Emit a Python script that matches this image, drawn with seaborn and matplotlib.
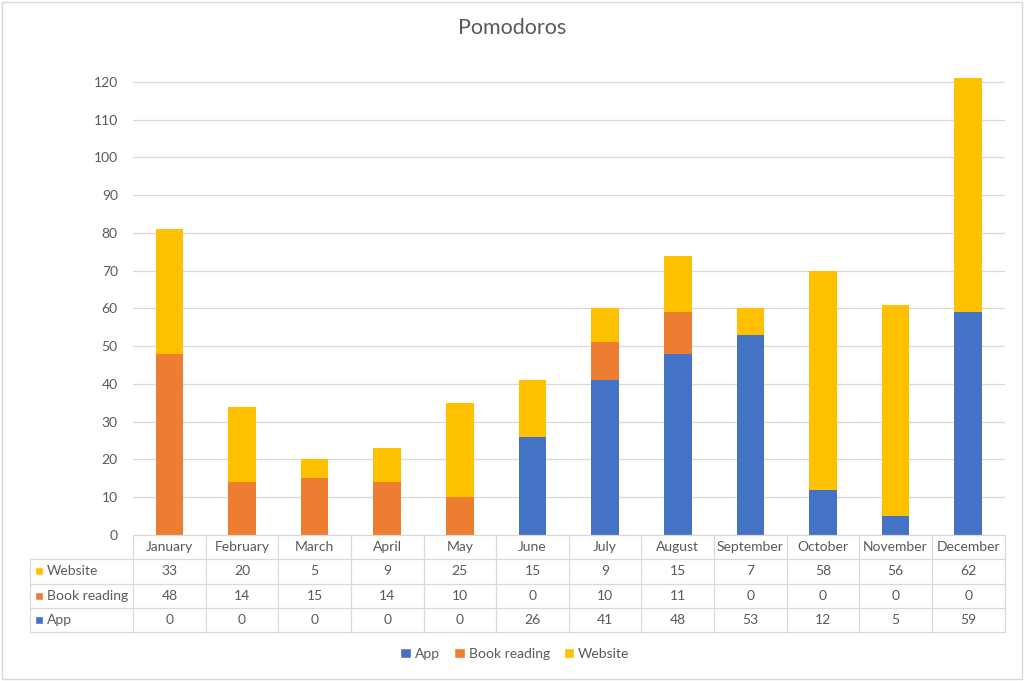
import numpy as np
import pandas as pd
import matplotlib
matplotlib.use("Agg")
import matplotlib.pyplot as plt
import seaborn as sns
from matplotlib.patches import Rectangle

months = ["January", "February", "March", "April", "May", "June", "July",
          "August", "September", "October", "November", "December"]
app = [0, 0, 0, 0, 0, 26, 41, 48, 53, 12, 5, 59]
book_reading = [48, 14, 15, 14, 10, 0, 10, 11, 0, 0, 0, 0]
website = [33, 20, 5, 9, 25, 15, 9, 15, 7, 58, 56, 62]

series_names = ["App", "Book reading", "Website"]
colors = {"App": "#4472C4", "Book reading": "#ED7D31", "Website": "#FFC000"}
text_color = "#595959"
grid_color = "#D9D9D9"

sns.set_style("white")
plt.rcParams["font.family"] = ["Lato", "DejaVu Sans"]

df = pd.DataFrame({"Month": months, "App": app,
                   "Book reading": book_reading, "Website": website})
# cumulative heights so that the bars can be overlapped to look stacked
df["top_book"] = df["App"] + df["Book reading"]
df["top_web"] = df["top_book"] + df["Website"]

fig = plt.figure(figsize=(10.24, 6.81), dpi=100)
ax = fig.add_axes([0.130, 0.2144, 0.851, 0.683])

for col, name in [("top_web", "Website"), ("top_book", "Book reading"), ("App", "App")]:
    sns.barplot(data=df, x="Month", y=col, order=months, color=colors[name],
                saturation=1, width=0.38, linewidth=0, ax=ax)

ax.set_xlim(-0.5, 11.5)
ax.set_ylim(0, 123.2)
ax.set_yticks(np.arange(0, 121, 10))
ax.yaxis.grid(True, color=grid_color, linewidth=0.9)
ax.set_axisbelow(True)
ax.tick_params(axis="y", length=0, labelsize=10, labelcolor=text_color, pad=11)
ax.set_xticks([])
ax.set_xlabel("")
ax.set_ylabel("")
for s in ax.spines.values():
    s.set_visible(False)

fig.text(0.5, 0.959, "Pomodoros", ha="center", va="center", fontsize=15.5,
         color=text_color)

# data table under the plot area
rh = 24.25 / 465
label_left = (30 - 133) / 872
line_kw = dict(color=grid_color, linewidth=0.9, transform=ax.transAxes, clip_on=False)
ax.plot([0, 1], [0, 0], **line_kw)
for r in range(1, 5):
    ax.plot([label_left, 1], [-r * rh, -r * rh], **line_kw)
for i in range(13):
    ax.plot([i / 12, i / 12], [0, -4 * rh], **line_kw)
ax.plot([label_left, label_left], [-rh, -4 * rh], **line_kw)

rows = [("Website", website), ("Book reading", book_reading), ("App", app)]
for i, m in enumerate(months):
    ax.text((i + 0.5) / 12, -0.5 * rh, m, transform=ax.transAxes, ha="center",
            va="center", fontsize=10, color=text_color)
for r, (name, vals) in enumerate(rows, start=1):
    y = -(r + 0.5) * rh
    ax.add_patch(Rectangle((label_left + 0.0057, y - 0.0086), 0.0092, 0.0172,
                           facecolor=colors[name], transform=ax.transAxes,
                           clip_on=False))
    ax.text(label_left + 0.0195, y, name, transform=ax.transAxes, ha="left",
            va="center", fontsize=10, color=text_color)
    for i, v in enumerate(vals):
        ax.text((i + 0.5) / 12, y, str(v), transform=ax.transAxes, ha="center",
                va="center", fontsize=10, color=text_color)

# legend
handles = [Rectangle((0, 0), 1, 1, facecolor=colors[n]) for n in series_names]
fig.legend(handles, series_names, loc="center", bbox_to_anchor=(0.503, 0.040),
           ncol=3, frameon=False, fontsize=10, handlelength=0.75, handleheight=0.75,
           handletextpad=0.3, columnspacing=1.0, labelcolor=text_color)

fig.patches.append(Rectangle((0.002, 0.003), 0.996, 0.994, transform=fig.transFigure,
                             fill=False, edgecolor=grid_color, linewidth=1))

fig.savefig("out.png", dpi=100, facecolor="white")
